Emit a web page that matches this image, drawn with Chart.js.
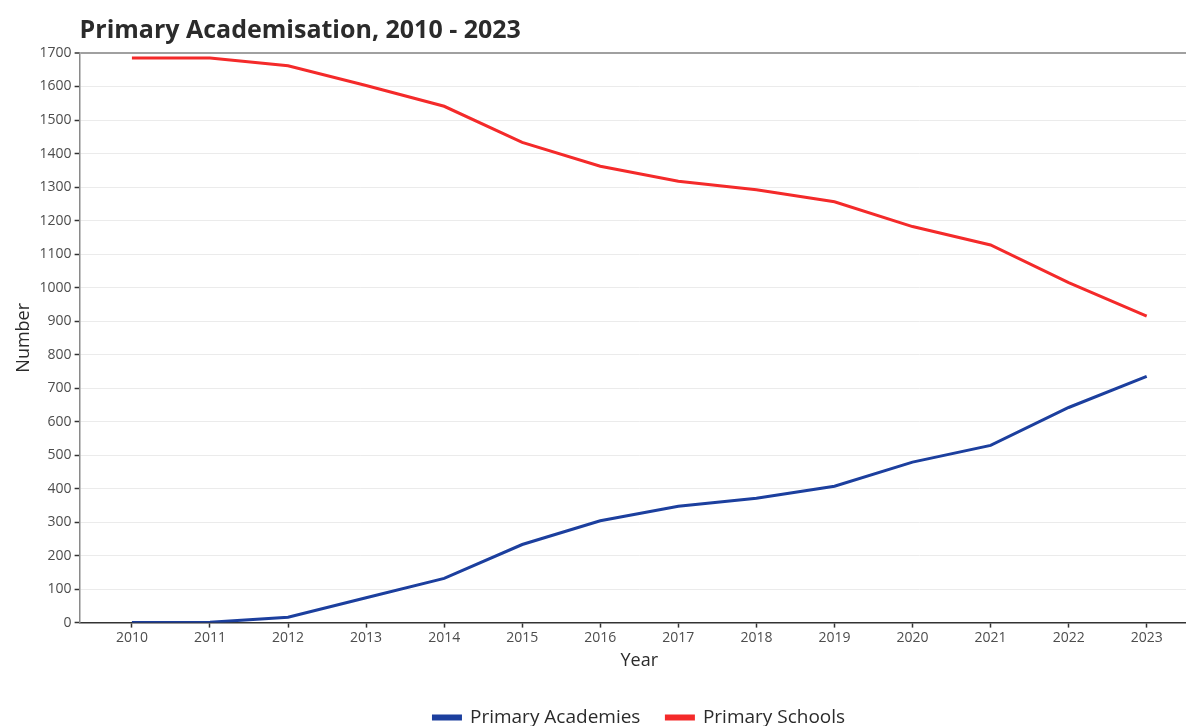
<!DOCTYPE html>
<html>
<head>
<meta charset="utf-8">
<script src="https://cdn.jsdelivr.net/npm/chart.js@4"></script>
<style>
  html, body { margin: 0; padding: 0; background: #ffffff; overflow: hidden; }
  #wrap { width: 1186px; height: 726px; overflow: hidden; position: relative; }
  canvas { display: block; }
</style>
</head>
<body>
<div id="wrap"><canvas id="c" width="1200" height="738"></canvas></div>
<script>
const years = [2010, 2011, 2012, 2013, 2014, 2015, 2016, 2017, 2018, 2019, 2020, 2021, 2022, 2023];
const primaryAcademies = [0, 1, 16, 74, 132, 233, 304, 347, 371, 407, 479, 529, 642, 735];
const primarySchools = [1685, 1685, 1662, 1603, 1541, 1433, 1362, 1317, 1292, 1256, 1182, 1127, 1015, 915];
const yTickValues = [0, 100, 200, 300, 400, 500, 600, 700, 800, 900, 1000, 1100, 1200, 1300, 1400, 1500, 1600, 1700];
const seriesNames = ['Primary Academies', 'Primary Schools'];
const titleText = 'Primary Academisation, 2010 - 2023';
const xTitle = 'Year';
const yTitle = 'Number';

const FONT = "'Open Sans', 'DejaVu Sans', sans-serif";
const BLUE = '#1c3f9e';
const RED = '#f42a2a';

function pts(vals) { return years.map((y, i) => ({ x: y, y: vals[i] })); }

new Chart(document.getElementById('c'), {
  type: 'line',
  data: {
    datasets: [
      { label: seriesNames[0], data: pts(primaryAcademies), borderColor: BLUE, backgroundColor: BLUE, borderWidth: 3, pointRadius: 0, tension: 0, fill: false },
      { label: seriesNames[1], data: pts(primarySchools), borderColor: RED, backgroundColor: RED, borderWidth: 3, pointRadius: 0, tension: 0, fill: false }
    ]
  },
  options: {
    responsive: false,
    animation: false,
    devicePixelRatio: 1,
    layout: { padding: { left: 4, right: 1, top: 0, bottom: 1 } },
    plugins: {
      tooltip: { enabled: false },
      title: {
        display: true,
        text: titleText,
        align: 'start',
        fullSize: false,
        color: '#2b2b2b',
        font: { family: FONT, size: 25, weight: 'bold' },
        padding: { top: 16, bottom: 7 }
      },
      legend: {
        position: 'bottom',
        fullSize: false,
        labels: {
          color: '#2b2b2b',
          font: { family: FONT, size: 19 },
          boxWidth: 27,
          boxHeight: 3,
          padding: 26
        }
      }
    },
    scales: {
      x: {
        type: 'linear',
        min: 2009.33,
        max: 2023.67,
        afterBuildTicks: (scale) => { scale.ticks = years.map(v => ({ value: v })); },
        ticks: {
          callback: (v) => String(v),
          autoSkip: false,
          maxRotation: 0,
          color: '#4d4d4d',
          font: { family: FONT, size: 14 },
          padding: 2
        },
        grid: { drawOnChartArea: false, drawTicks: true, tickLength: 5, tickColor: '#333333', tickWidth: 1.5 },
        border: { display: true, color: '#333333', width: 1.5 },
        title: {
          display: true,
          text: xTitle,
          color: '#2b2b2b',
          font: { family: FONT, size: 18 },
          padding: { top: 2, bottom: 10 }
        }
      },
      y: {
        type: 'linear',
        min: 0,
        max: 1700,
        afterBuildTicks: (scale) => { scale.ticks = yTickValues.map(v => ({ value: v })); },
        ticks: {
          callback: (v) => String(v),
          color: '#4d4d4d',
          font: { family: FONT, size: 14 },
          padding: 3
        },
        grid: {
          color: (ctx) => (ctx.tick && ctx.tick.value === 1700) ? '#a0a0a0' : '#ebebeb',
          lineWidth: (ctx) => (ctx.tick && ctx.tick.value === 1700) ? 2 : 1,
          drawTicks: true,
          tickLength: 5,
          tickColor: '#333333',
          tickWidth: 1.5
        },
        border: { display: true, color: '#8a8a8a', width: 1.5 },
        title: {
          display: true,
          text: yTitle,
          color: '#2b2b2b',
          font: { family: FONT, size: 18 },
          padding: { top: 9, bottom: 2 }
        }
      }
    }
  }
});
</script>
</body>
</html>
